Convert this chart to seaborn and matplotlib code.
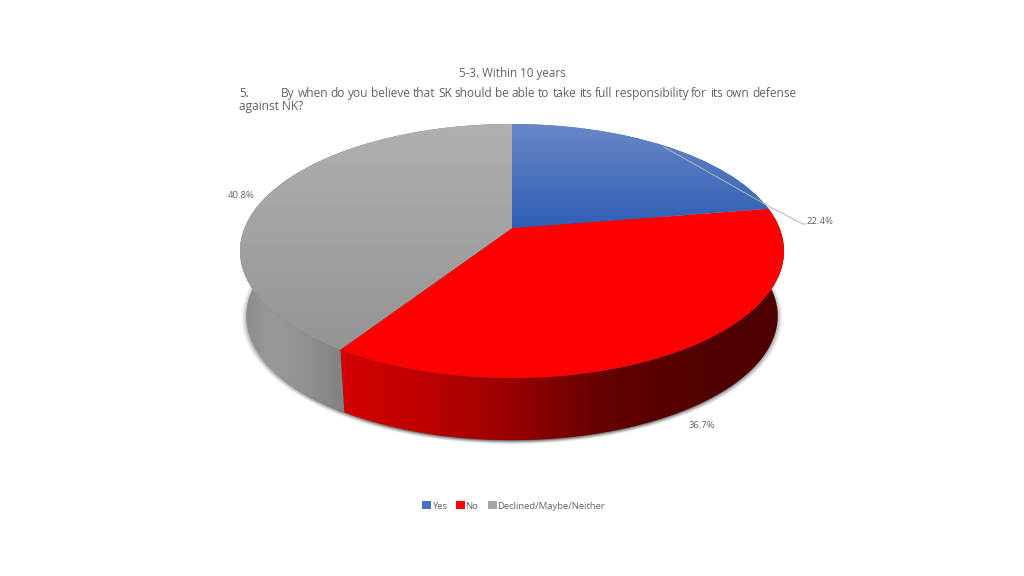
"""Within 10 years: 3D style pie of the SK defense question."""
import numpy as np
import matplotlib
matplotlib.use("Agg")
import matplotlib.pyplot as plt
import matplotlib.transforms as mtransforms
from matplotlib.patches import Polygon
import seaborn as sns

categories = ["Yes", "No", "Declined/Maybe/Neither"]
shares = [22.4, 36.7, 40.8]
colors = ["#4472c4", "#ff0000", "#a5a5a5"]
title = "5-3. Within 10 years"
question_words = ("By when do you believe that SK should be able to take "
                  "its full responsibility for its own defense").split()

sns.set_theme(style="white")
plt.rcParams["font.family"] = ["Open Sans", "DejaVu Sans"]
TEXT = "#636363"

# ellipse of the lid in pixels, and how far the wall drops / shrinks
CX, CY, RX, RY = 512, 251, 272, 127
APEX_UP = 23
DEPTH, SHRINK = 65, 0.977
C = APEX_UP / RY
D = RX * np.sqrt(1 - C ** 2)


def lid(xy):
    x, y = xy[:, 0], xy[:, 1]
    w = 1 + C * y
    return np.column_stack([CX + D * x / w, CY - (RY * y + APEX_UP) / w])


def floor(xy):
    p = lid(xy)
    return np.column_stack([CX + SHRINK * (p[:, 0] - CX),
                            CY + SHRINK * (p[:, 1] - CY) + DEPTH])


class Tilt(mtransforms.Transform):
    input_dims = output_dims = 2

    def transform_non_affine(self, values):
        return lid(np.asarray(values))

    def transform_path_non_affine(self, path):
        return matplotlib.path.Path(lid(path.vertices), path.codes)


fig = plt.figure(figsize=(10.24, 5.76), dpi=100)
ax = fig.add_axes([0, 0, 1, 1])
wedges, _ = ax.pie(shares, colors=colors, startangle=90, counterclock=False,
                   normalize=True, wedgeprops={"linewidth": 0})
ax.set_aspect("auto")
ax.axis("off")
EXTENT = (0, 1024, 576, 0)

# soft shadow below the wall
xx, yy = np.meshgrid(np.arange(1024) + .5, np.arange(576) + .5)
rr = np.sqrt(((xx - CX) / (RX * SHRINK)) ** 2 + ((yy - CY - DEPTH - 2) / (RY * SHRINK)) ** 2)
shadow = np.zeros((576, 1024, 4))
shadow[..., 3] = 0.7 * np.clip((1.022 - rr) / 0.04, 0, 1) ** 1.5
ax.imshow(shadow, extent=EXTENT, aspect="auto", zorder=1)

# walls: colour runs along x
wall_x = {1: [341, 420, 512, 600, 680, 784], 2: [240, 270, 300, 341]}
wall_v = {1: [(.83, 0, 0), (.75, 0, 0), (.60, 0, 0), (.40, 0, 0), (.33, 0, 0), (.30, 0, 0)],
          2: [(.54, .54, .54), (.60, .60, .60), (.58, .58, .58), (.51, .51, .51)]}
for i in (1, 2):
    t = np.radians(np.linspace(wedges[i].theta1, wedges[i].theta2, 240))
    unit = np.column_stack([np.cos(t), np.sin(t)])
    outline = np.vstack([lid(unit), floor(unit)[::-1]])
    poly = Polygon(outline, closed=True, facecolor="none", edgecolor="none",
                   transform=ax.transData)
    ax.add_patch(poly)
    xs = np.arange(1024) + .5
    ramp = np.column_stack([np.interp(xs, wall_x[i], [v[k] for v in wall_v[i]]) for k in range(3)])
    im = ax.imshow(ramp[None, :, :], extent=EXTENT, aspect="auto", zorder=2)
    im.set_clip_path(poly)

# lid
tilt = Tilt() + ax.transData
for w in wedges:
    w.set_transform(tilt)
    w.set_zorder(3)
    w.set_clip_on(False)
lid_ramp = {0: ((.41, .53, .78), (.18, .37, .71), 124, 228),
            2: ((.69, .69, .69), (.58, .58, .58), 124, 350)}
for i, (top, bot, y0, y1) in lid_ramp.items():
    ys = np.arange(576) + .5
    ramp = np.column_stack([np.interp(ys, [y0, y1], [top[k], bot[k]]) for k in range(3)])
    im = ax.imshow(ramp[:, None, :], extent=EXTENT, aspect="auto", zorder=4)
    im.set_clip_path(wedges[i])
ax.set_xlim(0, 1024)
ax.set_ylim(576, 0)

# leader line
ax.plot([664, 770, 803, 806], [147, 207, 224, 224], color="#b5b5b5", lw=.7, zorder=5)

for value, (x, y) in zip(shares, [(820, 221), (702, 425), (241, 195)]):
    ax.text(x, y, f"{value:.1f}%", color=TEXT, fontsize=6.8, ha="center", va="center", zorder=6)

# title and justified question line
ax.text(512, 77, title, color=TEXT, fontsize=8.4, ha="center", va="baseline")
ax.text(239, 97, "5.", color=TEXT, fontsize=8.6, va="baseline")
ax.text(239, 110, "against NK?", color=TEXT, fontsize=8.6, va="baseline")
renderer = fig.canvas.get_renderer()
parts = [ax.text(0, 97, w, color=TEXT, fontsize=8.6, va="baseline") for w in question_words]
widths = [p.get_window_extent(renderer).width for p in parts]
x0, x1 = 281, 796
gap = (x1 - x0 - sum(widths)) / (len(parts) - 1)
pos = x0
for p, wd in zip(parts, widths):
    p.set_x(pos)
    pos += wd + gap

leg = ax.legend(wedges, categories, loc="center", bbox_to_anchor=(513.5, 506),
                bbox_transform=ax.transData, ncols=3, frameon=False, fontsize=6.8,
                handlelength=.95, handleheight=.95, handletextpad=.05, columnspacing=1.0,
                labelcolor=TEXT, borderpad=0)
leg.set_zorder(6)

fig.savefig("out.png", dpi=100, facecolor="white")
